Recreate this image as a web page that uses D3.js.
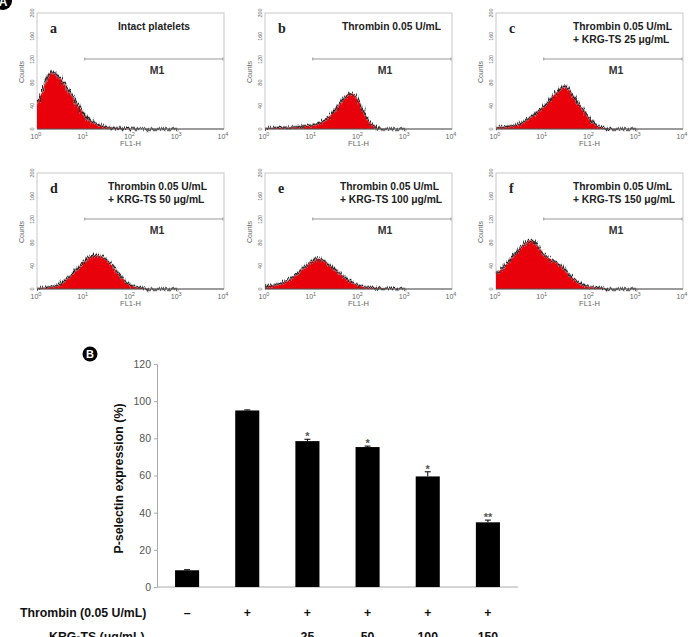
<!DOCTYPE html>
<html>
<head>
<meta charset="utf-8">
<script src="https://cdn.jsdelivr.net/npm/d3@7"></script>
<style>
  body { margin: 0; background: #fff; }
  svg { display: block; font-family: Arial, "Liberation Sans", sans-serif; }
</style>
</head>
<body>
<svg id="fig" width="690" height="637"></svg>
<script>
// Flow cytometry histograms (A) + P-selectin bar chart (B)

// --- histogram data: counts per bin, bins at log10(FL1-H) ---
const BIN_EXP = [0, 0.1, 0.2, 0.3, 0.4, 0.5, 0.6, 0.7, 0.8, 0.9, 1.0, 1.1, 1.2, 1.3, 1.4, 1.5,
                 1.6, 1.7, 1.8, 1.9, 2.0, 2.1, 2.2, 2.3, 2.4, 2.5, 2.6, 2.7, 2.8, 2.9, 3.0];
const HIST_A = [45, 62, 88, 100, 95, 88, 76, 64, 52, 38, 27, 18, 12, 8, 6, 4, 3, 2, 1.5, 1, 0.5, 0, 0, 0, 0, 0, 0, 0, 0, 0, 0];
const HIST_B = [2, 2, 2, 2.5, 3, 3, 3.5, 4, 5, 6, 7, 9, 12, 16, 24, 33, 45, 55, 63, 60, 50, 32, 16, 7, 2, 0.5, 0, 0, 0, 0, 0];
const HIST_C = [3, 4, 4, 5, 7, 9, 13, 18, 24, 31, 38, 46, 55, 64, 72, 74, 64, 52, 41, 30, 19, 10, 4, 2, 1, 0, 0, 0, 0, 0, 0];
const HIST_D = [2, 2, 3, 4, 6, 9, 15, 22, 30, 39, 47, 54, 58, 58, 55, 50, 41, 31, 21, 13, 7, 4, 2, 1, 0, 0, 0, 0, 0, 0, 0];
const HIST_E = [5, 6, 7, 9, 12, 15, 21, 28, 35, 42, 48, 52, 52, 47, 41, 34, 27, 21, 15, 10, 7, 4, 3, 2.5, 2, 1.5, 1.2, 1, 0.8, 0.5, 0];
const HIST_F = [27, 33, 41, 51, 61, 70, 77, 84, 83, 74, 63, 55, 50, 46, 41, 32, 22, 15, 10, 6, 4, 3, 2, 1, 0.5, 0, 0, 0, 0, 0, 0];

const PANEL_LETTERS = ['a', 'b', 'c', 'd', 'e', 'f'];
const PANEL_TITLES = [
  ['Intact platelets'],
  ['Thrombin 0.05 U/mL'],
  ['Thrombin 0.05 U/mL', '+ KRG-TS 25 \u03bcg/mL'],
  ['Thrombin 0.05 U/mL', '+ KRG-TS 50 \u03bcg/mL'],
  ['Thrombin 0.05 U/mL', '+ KRG-TS 100 \u03bcg/mL'],
  ['Thrombin 0.05 U/mL', '+ KRG-TS 150 \u03bcg/mL']
];
const PANEL_COUNTS = [HIST_A, HIST_B, HIST_C, HIST_D, HIST_E, HIST_F];
const COUNT_TICKS = [0, 40, 80, 120, 160, 200];
const DECADES = [0, 1, 2, 3, 4];

// --- bar chart data ---
const BAR_VALUES = [9, 95, 78.5, 75.3, 59.5, 34.8];
const BAR_ERRORS = [0.3, 0.3, 1.0, 0.5, 2.5, 1.2];
const BAR_SIG = ['', '', '*', '*', '*', '**'];
const THROMBIN = ['\u2013', '+', '+', '+', '+', '+'];
const KRG_DOSE = ['', '', '25', '50', '100', '150'];
const PCT_TICKS = [0, 20, 40, 60, 80, 100, 120];

const RED = '#e8000a';
const GREY = '#666';
const FRAME = '#c8c8c8';

const svg = d3.select('#fig');

const defs = svg.append('defs');
const fz = defs.append('filter').attr('id', 'fuzz')
  .attr('x', '-5%').attr('y', '-30%').attr('width', '110%').attr('height', '160%');
fz.append('feTurbulence').attr('type', 'fractalNoise').attr('baseFrequency', '0.9 0.08')
  .attr('numOctaves', 2).attr('seed', 4).attr('result', 'n');
fz.append('feDisplacementMap').attr('in', 'SourceGraphic').attr('in2', 'n')
  .attr('scale', 7).attr('xChannelSelector', 'R').attr('yChannelSelector', 'G');

// panel A marker (cut at the corner)
svg.append('circle').attr('cx', 3).attr('cy', 1).attr('r', 9).attr('fill', '#000');
svg.append('text').attr('x', 3).attr('y', 6).attr('text-anchor', 'middle')
  .attr('fill', '#fff').style('font-size', '12px').style('font-weight', 'bold').text('A');

// ---------- histograms ----------
const PW = 187, PH = 116;
const PANEL_POS = [[37, 13], [265, 13], [496, 13], [37, 173], [265, 173], [496, 173]];
const TITLE_X = [81, 77, 77, 71, 75, 77];

PANEL_COUNTS.forEach((counts, i) => {
  const [px, py] = PANEL_POS[i];
  const g = svg.append('g').attr('transform', `translate(${px},${py})`);
  const x = d3.scaleLog().domain([1, 1e4]).range([0, PW]);
  const y = d3.scaleLinear().domain([0, 200]).range([PH, 0]);
  const pts = BIN_EXP.map((e, k) => ({ v: Math.pow(10, e), c: counts[k] }));

  g.append('rect').attr('width', PW).attr('height', PH)
    .attr('fill', '#fff').attr('stroke', FRAME).attr('stroke-width', 1);

  const area = d3.area().x(d => x(d.v)).y0(y(0)).y1(d => y(d.c));
  const line = d3.line().x(d => x(d.v)).y(d => y(d.c));
  g.append('path').datum(pts).attr('d', area).attr('fill', RED);
  g.append('path').datum(pts).attr('d', line).attr('fill', 'none')
    .attr('stroke', '#999').attr('stroke-width', 3).attr('opacity', 0.7).attr('filter', 'url(#fuzz)');
  g.append('path').datum(pts).attr('d', line).attr('fill', 'none')
    .attr('stroke', '#222').attr('stroke-width', 1.1).attr('filter', 'url(#fuzz)');

  // base line
  g.append('line').attr('x1', 0).attr('x2', PW).attr('y1', PH).attr('y2', PH)
    .attr('stroke', '#555').attr('stroke-width', 1);

  // y ticks (rotated labels)
  COUNT_TICKS.forEach(t => {
    g.append('text').attr('transform', `translate(-3,${y(t)}) rotate(-90)`)
      .attr('text-anchor', 'middle').attr('fill', GREY).style('font-size', '5.5px').text(t);
  });
  g.append('text').attr('transform', `translate(-13,${PH / 2 + 1}) rotate(-90)`)
    .attr('text-anchor', 'middle').attr('fill', GREY).style('font-size', '7px').text('Counts');

  // x ticks: powers of ten
  DECADES.forEach(d => {
    const t = g.append('text').attr('x', x(Math.pow(10, d)) - 1).attr('y', PH + 10)
      .attr('text-anchor', 'middle').attr('fill', GREY).style('font-size', '7px');
    t.append('tspan').text('10');
    t.append('tspan').attr('dy', -3).style('font-size', '5.5px').text(d);
  });
  g.append('text').attr('x', x(100)).attr('y', PH + 17).attr('text-anchor', 'middle')
    .attr('fill', GREY).style('font-size', '7.5px').text('FL1-H');

  // M1 marker
  const my = 46;
  g.append('line').attr('x1', x(10) + 1).attr('x2', PW - 1).attr('y1', my).attr('y2', my)
    .attr('stroke', '#999').attr('stroke-width', 1);
  [x(10) + 1, PW - 1].forEach(xx => g.append('line').attr('x1', xx).attr('x2', xx)
    .attr('y1', my - 1.5).attr('y2', my + 1.5).attr('stroke', '#999'));
  g.append('text').attr('x', 120).attr('y', my + 15).attr('text-anchor', 'middle')
    .attr('fill', '#333').style('font-size', '10.5px').style('font-weight', 'bold').text('M1');

  // panel letter + title
  g.append('text').attr('x', 13).attr('y', 20).attr('fill', '#222')
    .style('font-family', '"Liberation Serif", "DejaVu Serif", serif')
    .style('font-size', '14px').style('font-weight', 'bold').text(PANEL_LETTERS[i]);
  PANEL_TITLES[i].forEach((s, k) => {
    g.append('text').attr('x', TITLE_X[i]).attr('y', 17 + k * 12.8)
      .attr('fill', '#222').style('font-size', '10.3px').style('font-weight', 'bold').text(s);
  });
});

// ---------- bar chart ----------
svg.append('circle').attr('cx', 90).attr('cy', 354).attr('r', 7.5).attr('fill', '#000');
svg.append('text').attr('x', 90).attr('y', 358).attr('text-anchor', 'middle')
  .attr('fill', '#fff').style('font-size', '11px').style('font-weight', 'bold').text('B');

const bx = d3.scaleBand().domain(d3.range(BAR_VALUES.length)).range([157, 518])
  .paddingInner(0.6).paddingOuter(0.3);
const by = d3.scaleLinear().domain([0, 120]).range([587, 364]);

svg.append('g').attr('transform', 'translate(157,0)')
  .call(d3.axisLeft(by).tickValues(PCT_TICKS).tickSize(3).tickPadding(3))
  .call(g => g.selectAll('text').attr('fill', '#555').style('font-size', '10.5px')
    .style('font-family', 'Arial, "Liberation Sans", sans-serif'))
  .call(g => g.selectAll('line, path').attr('stroke', '#aaa'));
svg.append('line').attr('x1', 157).attr('x2', 518).attr('y1', by(0)).attr('y2', by(0))
  .attr('stroke', '#aaa');

svg.append('text').attr('transform', `translate(123,${(by(0) + by(120)) / 2 + 3}) rotate(-90)`)
  .attr('text-anchor', 'middle').attr('fill', '#111')
  .style('font-size', '12.4px').style('font-weight', 'bold').text('P-selectin expression (%)');

BAR_VALUES.forEach((v, i) => {
  const x0 = bx(i), w = bx.bandwidth(), cx = x0 + w / 2;
  svg.append('rect').attr('x', x0).attr('y', by(v)).attr('width', w).attr('height', by(0) - by(v))
    .attr('fill', '#000');
  const top = by(v + BAR_ERRORS[i]);
  svg.append('line').attr('x1', cx).attr('x2', cx).attr('y1', by(v)).attr('y2', top)
    .attr('stroke', '#000').attr('stroke-width', 1);
  svg.append('line').attr('x1', cx - 3).attr('x2', cx + 3).attr('y1', top).attr('y2', top)
    .attr('stroke', '#000').attr('stroke-width', 1);
  if (BAR_SIG[i]) {
    svg.append('text').attr('x', cx).attr('y', top + 1).attr('text-anchor', 'middle')
      .attr('fill', '#555').style('font-size', '11px').style('font-weight', 'bold').text(BAR_SIG[i]);
  }
  svg.append('text').attr('x', cx).attr('y', 617).attr('text-anchor', 'middle')
    .attr('fill', '#111').style('font-size', '12.3px').style('font-weight', 'bold').text(THROMBIN[i]);
  if (KRG_DOSE[i]) {
    svg.append('text').attr('x', cx).attr('y', 641).attr('text-anchor', 'middle')
      .attr('fill', '#111').style('font-size', '12.3px').style('font-weight', 'bold').text(KRG_DOSE[i]);
  }
});

svg.append('text').attr('x', 20).attr('y', 617).attr('fill', '#111')
  .style('font-size', '12.3px').style('font-weight', 'bold').text('Thrombin (0.05 U/mL)');
svg.append('text').attr('x', 49).attr('y', 641).attr('fill', '#111')
  .style('font-size', '12.3px').style('font-weight', 'bold').text('KRG-TS (\u03bcg/mL)');
</script>
</body>
</html>
